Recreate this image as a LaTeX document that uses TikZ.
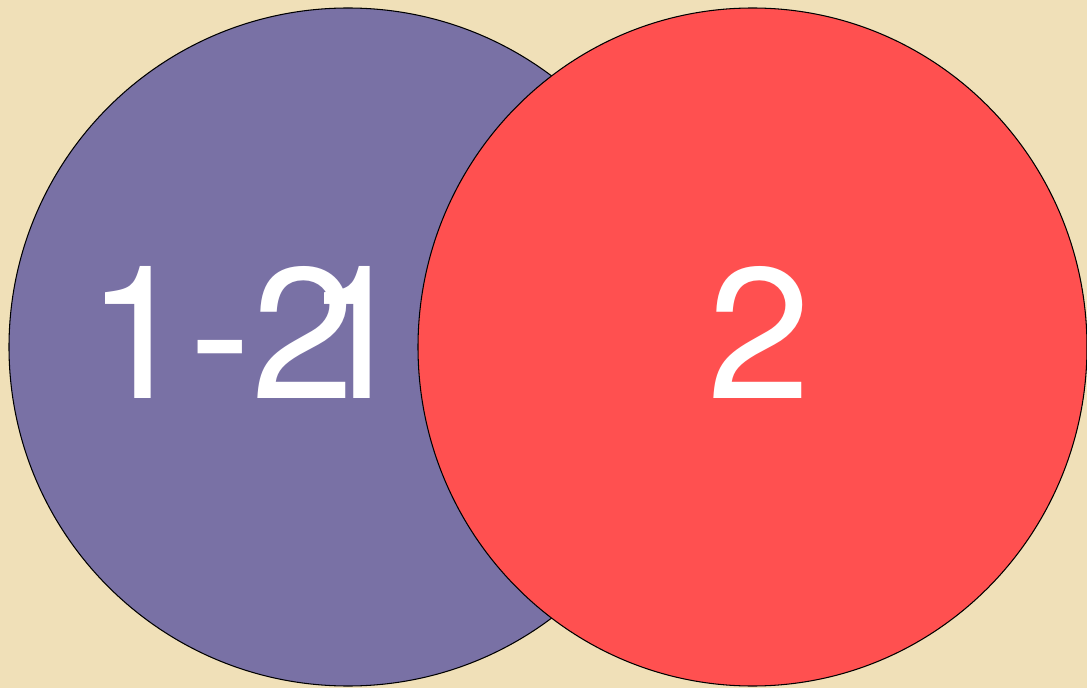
\documentclass[tikz,border=0pt]{standalone}
\usepackage{fontspec}
\setmainfont{TeX Gyre Heros}
\usetikzlibrary{shapes.geometric}
\definecolor{parchment}{RGB}{240,224,184}
\definecolor{setpurple}{RGB}{121,113,165}
\definecolor{setred}{RGB}{255,80,80}
\tikzset{
  setdisc/.style={draw=black, line width=0.6pt, ellipse, inner sep=0pt},
  biglabel/.style={text=white, inner sep=0pt, anchor=base west, font=\fontsize{106}{106}\selectfont}
}
\begin{document}
\begin{tikzpicture}
\fill[parchment] (0,0) rectangle (21.74,13.76);
\useasboundingbox (0,0) rectangle (21.74,13.76);
\node[setdisc, fill=setpurple, minimum width=13.56cm, minimum height=13.56cm] (left) at (6.96,6.82) {};
\node[setdisc, fill=setred, minimum width=13.38cm, minimum height=13.56cm] (right) at (15.05,6.82) {};
% labels
\node[biglabel] (diff) at (1.72,5.8) {1-2};
\node[biglabel] (one) at (6.1,5.8) {1};
\node[biglabel] (two) at (14.14,5.8) {2};
\end{tikzpicture}
\end{document}
